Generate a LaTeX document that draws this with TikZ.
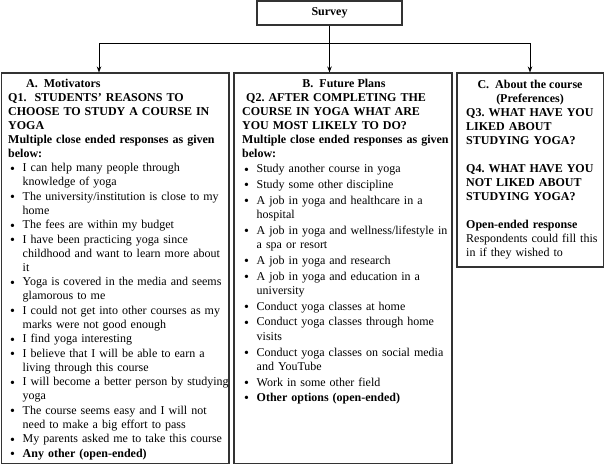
\documentclass[tikz,border=0pt]{standalone}
\usepackage{fontspec}
\setmainfont{Liberation Serif}
\usetikzlibrary{arrows.meta}
\frenchspacing
\newlength{\bulgap}
\setlength{\bulgap}{0.5pt}
\newcommand{\bul}{\par\vspace{\bulgap}\noindent\hangindent=14.5pt\hangafter=1\makebox[14.5pt][l]{\hspace{2pt}\raisebox{-1.3pt}{\fontsize{14}{14}\selectfont\textbullet}}}
\tikzset{
  every node/.style={font=\fontsize{12}{14}\selectfont},
  boxframe/.style={draw=black!80, line width=1.1pt, inner sep=0pt, fill=white},
  txt/.style={inner sep=0pt, align=left, anchor=north west},
  hdr/.style={inner sep=0pt, anchor=base, font=\fontsize{12}{14}\selectfont\bfseries},
  conn/.style={draw=black, line width=0.8pt},
  arr/.style={conn, -{Stealth[length=6pt,width=4.5pt]}}
}
\begin{document}
\begin{tikzpicture}[x=1pt,y=-1pt]
\useasboundingbox (0,0) rectangle (605,466);
\fill[white] (0,0) rectangle (605,466);
% survey
\node[boxframe, minimum width=145pt, minimum height=24pt] (survey) at (329.5,13) {\textbf{Survey}};
% boxes
\node[boxframe, minimum width=227.5pt, minimum height=390.5pt] (A) at (115.25,268.25) {};
\node[boxframe, minimum width=218pt, minimum height=390.5pt] (B) at (343,268.25) {};
\node[boxframe, minimum width=146.5pt, minimum height=194pt] (C) at (530.25,170) {};
% connectors
\coordinate (ja) at (99,43);
\coordinate (jc) at (530,43);
\draw[conn] (ja) -- (jc);
\draw[arr] (survey.south) -- (survey.south |- B.north);
\draw[arr] (ja) -- (ja |- A.north);
\draw[arr] (jc) -- (jc |- C.north);
% headers
\node[hdr, anchor=base west] (ha) at (26,87) {A.\hspace{6pt}Motivators};
\node[hdr] (hb) at (344,87) {B.\hspace{6pt}Future Plans};
\node[hdr] (hc) at (530,88) {C.\hspace{6pt}About the course};
\node[hdr] (hc2) at (530,102) {(Preferences)};
% texts
\node[txt, text width=232pt] (ta) at (8,91.2) {\strut\textbf{Q1.\ \ STUDENTS’ REASONS TO\newline CHOOSE TO STUDY A COURSE IN\newline YOGA}\par
\textbf{Multiple close ended responses as given\newline below:}
\bul I can help many people through\newline knowledge of yoga
\bul The university/institution is close to my\newline home
\bul The fees are within my budget
\bul I have been practicing yoga since\newline childhood and want to learn more about\newline it
\bul Yoga is covered in the media and seems\newline glamorous to me
\bul I could not get into other courses as my\newline marks were not good enough
\bul I find yoga interesting
\bul I believe that I will be able to earn a\newline living through this course
\bul I will become a better person by studying\newline yoga
\bul The course seems easy and I will not\newline need to make a big effort to pass
\bul My parents asked me to take this course
\bul \textbf{Any other (open-ended)}};
\node[txt, text width=220pt] (tb) at (242,91.2) {\strut\textbf{\ Q2. AFTER COMPLETING THE\newline COURSE IN YOGA WHAT ARE\newline YOU MOST LIKELY TO DO?}\par
\textbf{Multiple close ended responses as given\newline below:}\par
\setlength{\bulgap}{1pt}\baselineskip=14.6pt
\bul Study another course in yoga
\bul Study some other discipline
\bul A job in yoga and healthcare in a\newline hospital
\bul A job in yoga and wellness/lifestyle in\newline a spa or resort
\bul A job in yoga and research
\bul A job in yoga and education in a\newline university
\bul Conduct yoga classes at home
\bul Conduct yoga classes through home\newline visits
\bul Conduct yoga classes on social media\newline and YouTube
\bul Work in some other field
\bul \textbf{Other options (open-ended)}};
\node[txt, text width=150pt] (tc) at (466,106.2) {\strut\textbf{Q3. WHAT HAVE YOU\newline LIKED ABOUT\newline STUDYING YOGA?}\par\vspace{14pt}
\textbf{Q4. WHAT HAVE YOU\newline NOT LIKED ABOUT\newline STUDYING YOGA?}\par\vspace{14pt}
\textbf{Open-ended response}\newline Respondents could fill this\newline in if they wished to};
\end{tikzpicture}
\end{document}
